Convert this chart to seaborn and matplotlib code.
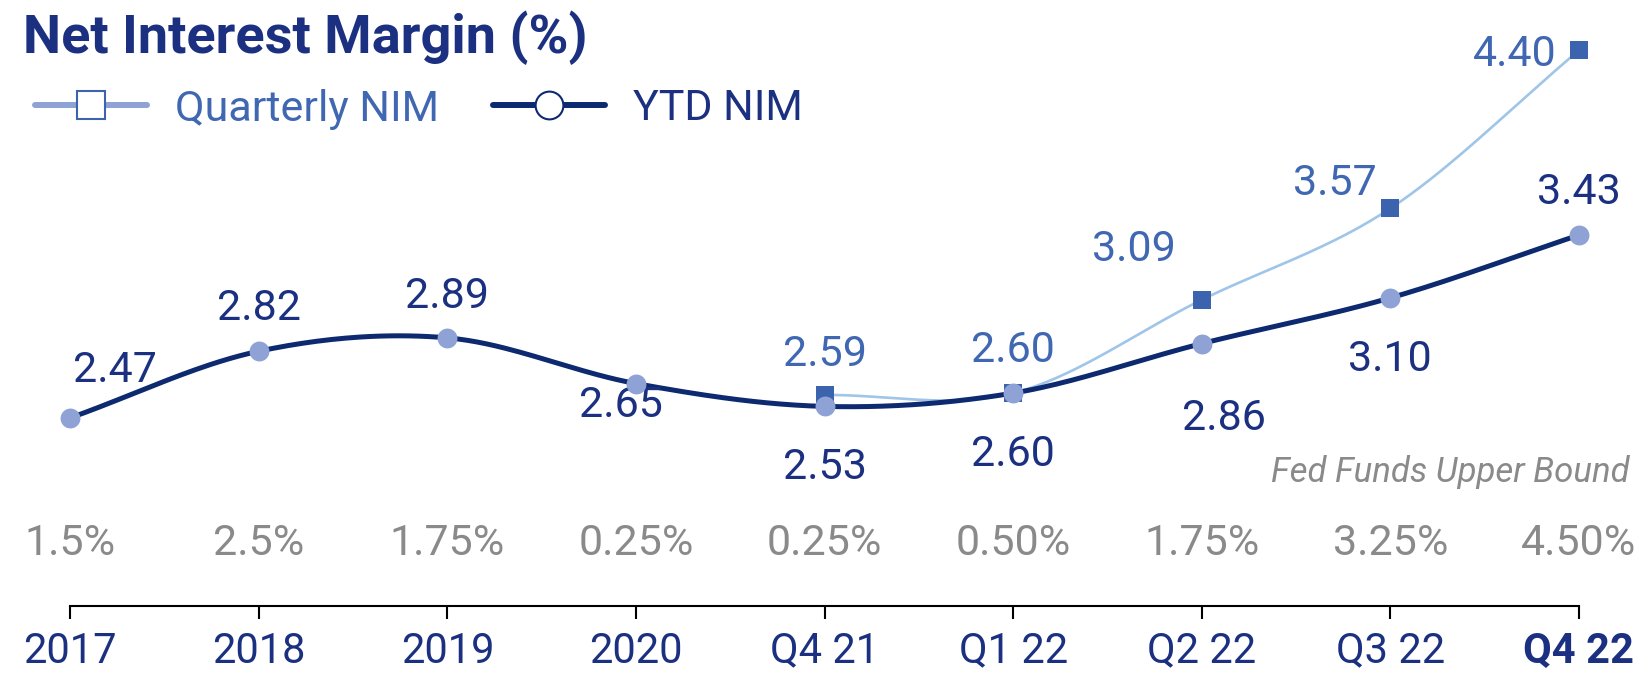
import numpy as np
import pandas as pd
import matplotlib
matplotlib.use("Agg")
import matplotlib.pyplot as plt
from matplotlib.lines import Line2D
import seaborn as sns

# ---- data ----
periods = ["2017", "2018", "2019", "2020", "Q4 21", "Q1 22", "Q2 22", "Q3 22", "Q4 22"]
ytd_nim = [2.47, 2.82, 2.89, 2.65, 2.53, 2.60, 2.86, 3.10, 3.43]
quarterly_periods = ["Q4 21", "Q1 22", "Q2 22", "Q3 22", "Q4 22"]
quarterly_nim = [2.59, 2.60, 3.09, 3.57, 4.40]
fed_funds = ["1.5%", "2.5%", "1.75%", "0.25%", "0.25%", "0.50%", "1.75%", "3.25%", "4.50%"]

# label offsets in points (dx, dy) relative to each marker
ytd_offsets = [(32, 34), (0, 31), (0, 30), (-11, -16), (0, -44), (0, -44), (16, -54), (0, -44), (0, 31)]
q_offsets = [(0, 29), (0, 31), (-49, 36), (-40, 18), (-46, -3)]

NAVY = "#0d2a70"
NAVY_TXT = "#1b3080"
DOT = "#8fa2d5"
Q_LINE = "#9fc5e8"
Q_MARK = "#3b63ae"
Q_TXT = "#4067b2"
GREY = "#8a8a8a"

sns.set_theme(style="white")
plt.rcParams["font.family"] = ["Roboto", "DejaVu Sans"]


def smooth(xv, yv, n=40):
    """Catmull-Rom style cubic Hermite through the points (like Excel's smoothed line)."""
    xv = np.asarray(xv, float)
    yv = np.asarray(yv, float)
    m = np.empty_like(yv)
    m[1:-1] = (yv[2:] - yv[:-2]) / 2
    m[0] = yv[1] - yv[0]
    m[-1] = yv[-1] - yv[-2]
    xs, ys = [], []
    t = np.linspace(0, 1, n)
    h00 = 2 * t**3 - 3 * t**2 + 1
    h10 = t**3 - 2 * t**2 + t
    h01 = -2 * t**3 + 3 * t**2
    h11 = t**3 - t**2
    for i in range(len(xv) - 1):
        xs.append(xv[i] + t * (xv[i + 1] - xv[i]))
        ys.append(h00 * yv[i] + h10 * m[i] + h01 * yv[i + 1] + h11 * m[i + 1])
    return np.concatenate(xs), np.concatenate(ys)


x_all = np.arange(len(periods))
x_q = np.array([periods.index(p) for p in quarterly_periods])

ytd_df = pd.DataFrame({"x": x_all, "nim": ytd_nim})
q_df = pd.DataFrame({"x": x_q, "nim": quarterly_nim})
ytd_sx, ytd_sy = smooth(x_all, ytd_nim)
q_sx, q_sy = smooth(x_q, quarterly_nim)

fig = plt.figure(figsize=(16.46, 6.73), dpi=100)
ax = fig.add_axes([0, 0.1, 1, 0.9])

sns.lineplot(x=q_sx, y=q_sy, ax=ax, color=Q_LINE, linewidth=1.9, sort=False, estimator=None, zorder=2)
sns.lineplot(x=ytd_sx, y=ytd_sy, ax=ax, color=NAVY, linewidth=3.6, sort=False, estimator=None, zorder=3)
sns.scatterplot(data=q_df, x="x", y="nim", ax=ax, marker="s", s=180, color=Q_MARK, linewidth=0, zorder=4)
sns.scatterplot(data=ytd_df, x="x", y="nim", ax=ax, marker="o", s=205, color=DOT, linewidth=0, zorder=5)

for xi, v, off in zip(x_all, ytd_nim, ytd_offsets):
    ax.annotate(f"{v:.2f}", (xi, v), xytext=off, textcoords="offset points",
                ha="center", va="center", fontsize=31, color=NAVY_TXT)
for xi, v, off in zip(x_q, quarterly_nim, q_offsets):
    ax.annotate(f"{v:.2f}", (xi, v), xytext=off, textcoords="offset points",
                ha="center", va="center", fontsize=31, color=Q_TXT)

# fed funds row
for xi, lab in zip(x_all, fed_funds):
    ax.text(xi, 0.1035, lab, transform=ax.get_xaxis_transform(), ha="center", va="center",
            fontsize=31, color=GREY)
fig.text(0.990, 1 - 472 / 673, "Fed Funds Upper Bound", ha="right", va="center",
         fontsize=25, style="italic", color=GREY)

ax.set_xlim(-0.373, 8.356)
ax.set_ylim(1.483, 4.665)
ax.set_xticks(x_all)
ax.set_xticklabels(periods, fontsize=30, color=NAVY_TXT)
ax.get_xticklabels()[-1].set_fontweight("bold")
ax.set_yticks([])
ax.set_xlabel("")
ax.set_ylabel("")
for s in ["top", "right", "left"]:
    ax.spines[s].set_visible(False)
ax.spines["bottom"].set_bounds(0, 8)
ax.spines["bottom"].set_color("black")
ax.spines["bottom"].set_linewidth(1.5)
ax.tick_params(axis="x", direction="out", length=9, width=1.5, color="black", pad=9, bottom=True)

fig.text(0.014, 1 - 38 / 673, "Net Interest Margin (%)", ha="left", va="center",
         fontsize=39, fontweight="bold", color=NAVY_TXT)

handles = [
    Line2D([], [], color=DOT, linewidth=4.3, marker="s", markersize=20,
           markerfacecolor="white", markeredgecolor=Q_MARK, markeredgewidth=1.5),
    Line2D([], [], color=NAVY, linewidth=4.3, marker="o", markersize=20,
           markerfacecolor="white", markeredgecolor=NAVY, markeredgewidth=1.5),
]
leg = fig.legend(handles, ["Quarterly NIM", "YTD NIM"], loc="center left",
                 bbox_to_anchor=(0.0, 1 - 109 / 673), ncol=2, frameon=False,
                 fontsize=31, handlelength=2.6, handletextpad=0.65, columnspacing=1.25,
                 labelcolor=[Q_TXT, NAVY_TXT], borderaxespad=0, borderpad=0)
leg.set_bbox_to_anchor((35 / 1646, 1 - 109 / 673), transform=fig.transFigure)

fig.savefig("out.png", dpi=100)
